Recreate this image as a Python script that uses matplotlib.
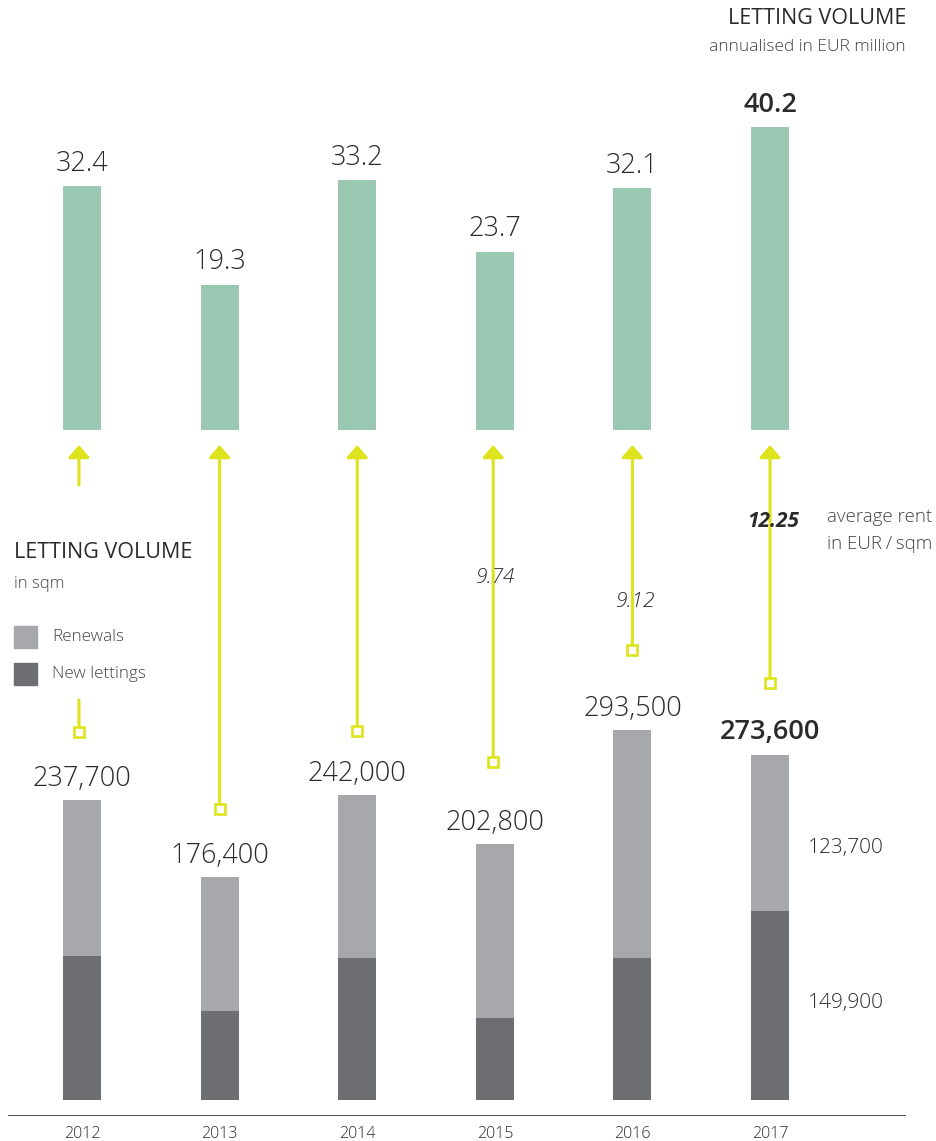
import matplotlib
matplotlib.use("Agg")
import matplotlib.pyplot as plt

# ---- data -------------------------------------------------------------
years = ["2012", "2013", "2014", "2015", "2016", "2017"]
volume_eur_m = [32.4, 19.3, 33.2, 23.7, 32.1, 40.2]
total_sqm = [237700, 176400, 242000, 202800, 293500, 273600]
new_lettings_sqm = [114100, 70500, 112500, 65000, 112500, 149900]
renewals_sqm = [t - n for t, n in zip(total_sqm, new_lettings_sqm)]
avg_rent = [None, None, None, 9.74, 9.12, 12.25]

# ---- style --------------------------------------------------------------
GREEN = "#9bc8b3"
LIGHT_GREY = "#a7a8ab"
DARK_GREY = "#6d6e71"
YELLOW = "#dde31c"
TEXT = "#2b2b2b"
SUBTEXT = "#444444"
FONT = ["Open Sans", "DejaVu Sans"]
plt.rcParams["font.family"] = FONT

W, H = 937, 1141
fig = plt.figure(figsize=(W / 100, H / 100), dpi=100)


def fx(px):
    return px / W


def fy(px):
    return 1 - px / H


# pixel geometry of the two panels
X_LEFT, X_RIGHT = 8, 906
TOP_BASE, TOP_CEIL = 430, 94
BOT_AXIS, BOT_CEIL = 1116, 500
EUR_PX = 7.53             # pixels per EUR million
SQM_PX = 1.262 / 1000     # pixels per sqm
x_lim = (-0.5378, 5.988)
bar_w = 0.276

ax_top = fig.add_axes([fx(X_LEFT), fy(TOP_BASE), fx(X_RIGHT) - fx(X_LEFT),
                       (TOP_BASE - TOP_CEIL) / H])
ax_bot = fig.add_axes([fx(X_LEFT), fy(BOT_AXIS), fx(X_RIGHT) - fx(X_LEFT),
                       (BOT_AXIS - BOT_CEIL) / H])
for ax in (ax_top, ax_bot):
    ax.set_facecolor("none")
    ax.set_xlim(*x_lim)
    for s in ax.spines.values():
        s.set_visible(False)
    ax.set_yticks([])

ax_top.set_ylim(0, (TOP_BASE - TOP_CEIL) / EUR_PX)
y_lo = -16 / SQM_PX
ax_bot.set_ylim(y_lo, y_lo + (BOT_AXIS - BOT_CEIL) / SQM_PX)
ax_top.set_xticks([])

xs = list(range(len(years)))

# ---- annualised letting volume (top) ----------------------------------
ax_top.bar(xs, volume_eur_m, width=bar_w, color=GREEN, zorder=2)
for i, v in enumerate(volume_eur_m):
    last = i == len(years) - 1
    ax_top.annotate(f"{v:.1f}", (i, v), xytext=(0, 11), textcoords="offset points",
                    ha="center", va="baseline", fontsize=19.5, color=TEXT,
                    fontweight="semibold" if last else "light")

# ---- letting volume in sqm (bottom) -----------------------------------
ax_bot.bar(xs, new_lettings_sqm, width=bar_w, color=DARK_GREY, zorder=2)
ax_bot.bar(xs, renewals_sqm, bottom=new_lettings_sqm, width=bar_w,
           color=LIGHT_GREY, zorder=2)
for i, t in enumerate(total_sqm):
    last = i == len(years) - 1
    ax_bot.annotate(f"{t:,}", (i, t), xytext=(0, 10 if not last else 11),
                    textcoords="offset points", ha="center", va="baseline",
                    fontsize=19.5, color=TEXT,
                    fontweight="semibold" if last else "light")

# segment labels beside the latest bar
k = len(years) - 1
ax_bot.annotate(f"{renewals_sqm[k]:,}", (k, new_lettings_sqm[k] + renewals_sqm[k] / 2),
                xytext=(27, -11), textcoords="offset points", ha="left", va="center",
                fontsize=15, color=TEXT, fontweight="light")
ax_bot.annotate(f"{new_lettings_sqm[k]:,}", (k, new_lettings_sqm[k] / 2),
                xytext=(27, 2), textcoords="offset points", ha="left", va="center",
                fontsize=15, color=TEXT, fontweight="light")

ax_bot.axhline(y_lo, color="#231f20", lw=1.1, zorder=3)
ax_bot.set_xticks(xs)
ax_bot.set_xticklabels(years, fontsize=11.5, color=TEXT, fontweight="light")
ax_bot.tick_params(axis="x", length=0, pad=7)

# ---- average rent connectors -------------------------------------------
marker_gap_px = [68, 68, 64, 82, 80, 72]
line_shift = [-0.022, 0, 0, -0.012, 0, 0]
arrow_tip_px = TOP_BASE + 15
line_breaks_px = {0: (485, 700)}
rent_label_px = [None, None, None, 578, 602, 521]

for i, t in enumerate(total_sqm):
    x = i + line_shift[i]
    sq_y = t + marker_gap_px[i] / SQM_PX
    if i in line_breaks_px:
        top_px, bottom_px = line_breaks_px[i]
        ax_bot.annotate("", xy=(x, fy(bottom_px)), xycoords=("data", "figure fraction"),
                        xytext=(x, sq_y), textcoords="data",
                        arrowprops=dict(arrowstyle="-", color=YELLOW, lw=2.2,
                                        shrinkA=0, shrinkB=0),
                        annotation_clip=False, zorder=4)
        tail, tail_coords = (x, fy(top_px)), ("data", "figure fraction")
    else:
        tail, tail_coords = (x, sq_y), "data"
    ax_bot.annotate("", xy=(x, fy(arrow_tip_px)), xycoords=("data", "figure fraction"),
                    xytext=tail, textcoords=tail_coords,
                    arrowprops=dict(arrowstyle="-|>,head_length=0.75,head_width=0.65",
                                    color=YELLOW, lw=2.2, shrinkA=0, shrinkB=0,
                                    mutation_scale=10),
                    annotation_clip=False, zorder=4)
    ax_bot.plot([x], [sq_y], marker="s", ms=6.8, mfc="white", mec=YELLOW,
                mew=1.9, clip_on=False, zorder=5)
    if avg_rent[i] is not None:
        last = i == len(years) - 1
        ax_bot.annotate(f"{avg_rent[i]:.2f}", xy=(x + 0.02, fy(rent_label_px[i])),
                        xycoords=("data", "figure fraction"), ha="center", va="center",
                        fontsize=15, color=TEXT, style="italic",
                        fontweight="bold" if last else "light",
                        annotation_clip=False, zorder=6)

# ---- titles and legend ---------------------------------------------------
fig.text(fx(906), fy(18), "LETTING VOLUME", ha="right", va="center",
         fontsize=15.5, color=TEXT)
fig.text(fx(906), fy(47), "annualised in EUR million", ha="right", va="center",
         fontsize=12.5, color=SUBTEXT, fontweight="light")
fig.text(fx(932), fy(517), "average rent", ha="right", va="center",
         fontsize=13.5, color=SUBTEXT, fontweight="light")
fig.text(fx(932), fy(544), "in EUR\u2009/\u2009sqm", ha="right", va="center",
         fontsize=13.5, color=SUBTEXT, fontweight="light")

fig.text(fx(14), fy(553), "LETTING VOLUME", ha="left", va="center",
         fontsize=15.5, color=TEXT)
fig.text(fx(14), fy(584), "in sqm", ha="left", va="center",
         fontsize=12, color=SUBTEXT, fontweight="light")
for label, color, ypx in (("Renewals", LIGHT_GREY, 637), ("New lettings", DARK_GREY, 674)):
    fig.patches.append(plt.Rectangle((fx(14), fy(ypx + 11)), 23 / W, 22 / H,
                                     transform=fig.transFigure, color=color))
    fig.text(fx(52), fy(ypx), label, ha="left", va="center",
             fontsize=12.3, color=SUBTEXT, fontweight="light")

fig.savefig("out.png", dpi=100)
